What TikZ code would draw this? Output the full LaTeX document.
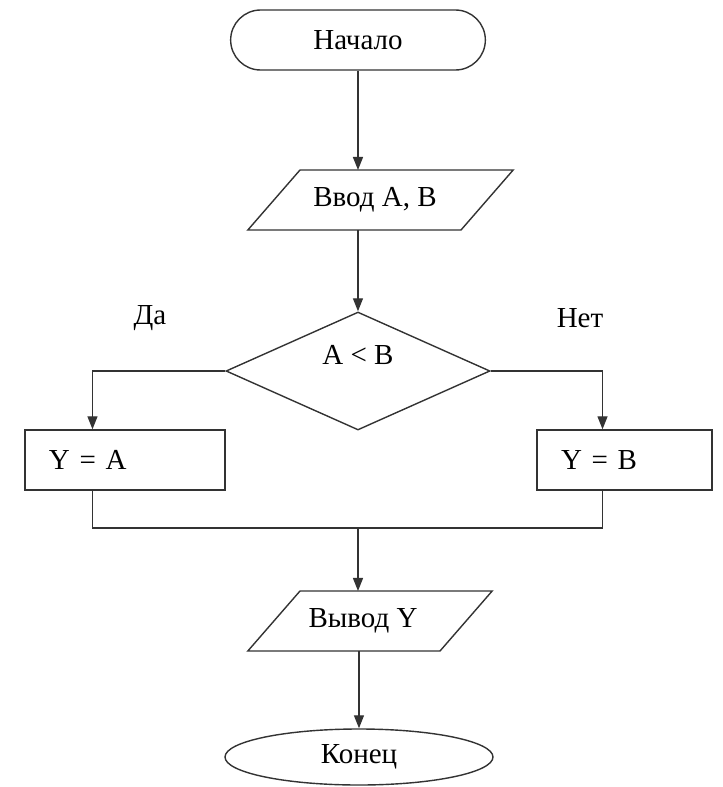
\documentclass[tikz,border=0pt]{standalone}
\usepackage{fontspec}
\setmainfont{Liberation Serif}
\usetikzlibrary{shapes.geometric, shapes.misc, arrows.meta}

\tikzset{
    line/.style={draw=black!80, line width=0.7pt},
    arrow/.style={line, -{Triangle[length=6.5pt, width=5pt]}},
    terminal/.style={line, rounded rectangle, minimum width=134pt, minimum height=30pt},
    io/.style={line, shape=trapezium, trapezium left angle=49, trapezium right angle=131,
        text height=0pt, text depth=0pt, inner ysep=15pt, outer sep=0pt},
    stepbox/.style={line, rectangle, minimum height=30pt, inner xsep=12pt, align=left},
    decision/.style={line, diamond, minimum width=132pt, minimum height=59pt, inner sep=0pt},
    stopshape/.style={line, ellipse, minimum width=134pt, minimum height=28pt},
}

\begin{document}
\begin{tikzpicture}[scale=0.8786, yscale=-1, every node/.append style={font=\fontsize{14.5}{17}\selectfont}]
    \useasboundingbox (0,0) rectangle (14.46,15.74);

    % Start and input
    \node[terminal] (start) at (7.16,0.8) {Начало};
    \node[io, inner xsep=40.25pt] (inp) at (7.61,4.0) {};
    \node (inptext) at (7.5,4.0) {Ввод A, B};

    % Condition
    \node[decision] (cond) at (7.16,7.42) {};
    \node (condtext) at (7.16,7.1) {A < B};
    \node (yes) at (3.0,6.36) {Да};
    \node (no) at (11.6,6.36) {Нет};

    % Branches
    \node[stepbox, text width=76pt] (boxa) at (2.5,9.2) {Y = A};
    \node[stepbox, text width=63.5pt] (boxb) at (12.49,9.2) {Y = B};
    \coordinate (join) at (7.16,10.56);

    % Output and end
    \node[io, inner xsep=35pt] (out) at (7.4,12.42) {};
    \node (outtext) at (7.26,12.42) {Вывод Y};
    \node[stopshape] (stop) at (7.18,15.14) {Конец};

    % Connectors
    \draw[arrow] (start.south) -- (start.south |- inp.north);
    \draw[arrow] (inp.south -| cond.north) -- (cond.north);
    \draw[arrow] (cond.west) -| ([xshift=-18.5pt]boxa.north);
    \draw[arrow] (cond.east) -| ([xshift=-12.5pt]boxb.north);
    \draw[line] ([xshift=-18.5pt]boxa.south) |- (join) -| ([xshift=-12.5pt]boxb.south);
    \draw[arrow] (join) -- (join |- out.north);
    \draw[arrow] (out.south -| stop.north) -- (stop.north);
\end{tikzpicture}
\end{document}
